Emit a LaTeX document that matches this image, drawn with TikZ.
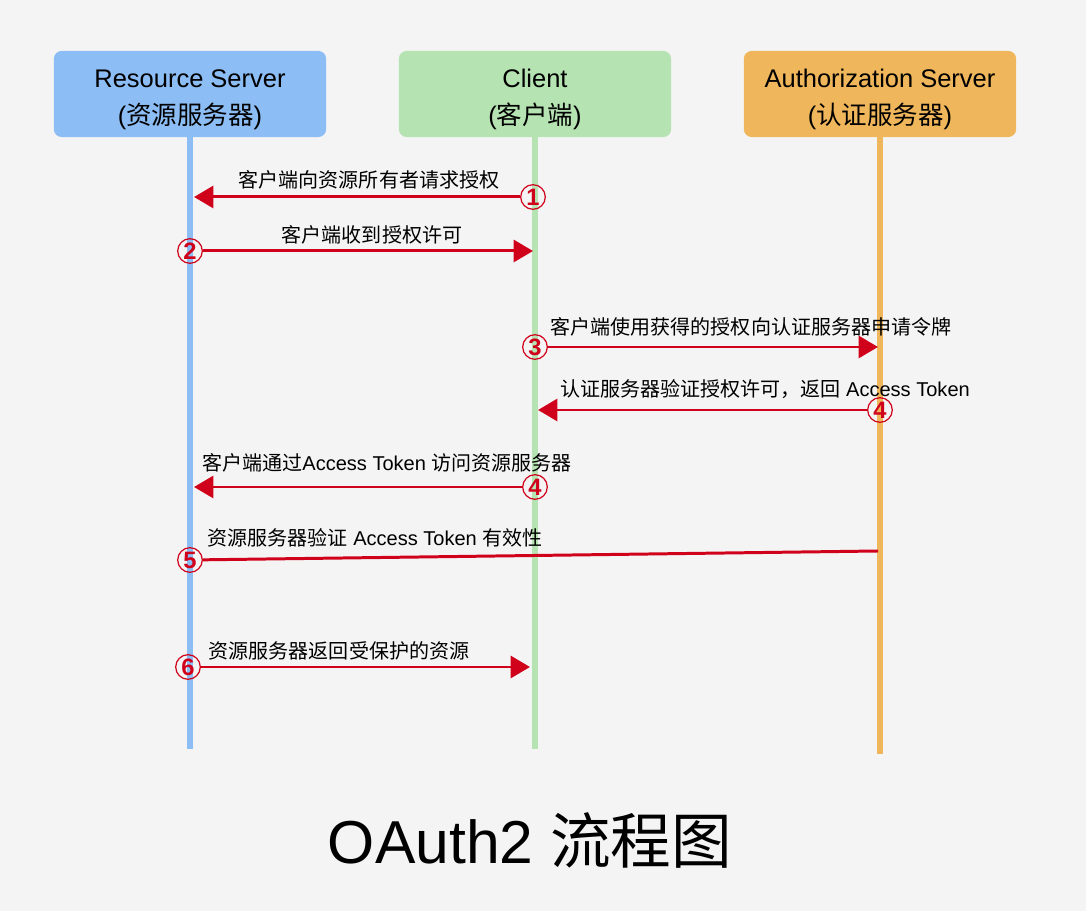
\documentclass[tikz,border=0pt]{standalone}
\usepackage{fontspec}
\setmainfont{Liberation Sans}
\newfontfamily\cjk{Noto Sans CJK SC}
\usetikzlibrary{arrows.meta,positioning}

\definecolor{resblue}{HTML}{8CBDF4}
\definecolor{cligreen}{HTML}{B6E3B2}
\definecolor{authorange}{HTML}{EFB65B}
\definecolor{msgred}{HTML}{D0021B}
\definecolor{bggray}{HTML}{F4F4F4}

\tikzset{
    actor/.style={rounded corners=4.5pt, minimum width=155pt, minimum height=49pt,
        inner sep=0pt, align=center, font=\fontsize{14.5}{21}\selectfont},
    lifeline/.style={line width=3.4pt},
    msg/.style={draw=msgred, line width=1.7pt, -{Triangle[length=11pt, width=12.5pt]}},
    num/.style={circle, draw=msgred, text=msgred, line width=0.7pt, minimum size=14pt,
        inner sep=0pt, font=\fontsize{13.5}{13.5}\selectfont\bfseries},
    msglabel/.style={inner sep=0pt, font=\fontsize{11.4}{13}\selectfont}
}

\begin{document}
\begin{tikzpicture}[x=0.02cm, y=-0.02cm]

    % Background
    \fill[bggray] (0,0) rectangle (1086,911);
    \useasboundingbox (0,0) rectangle (1086,911);

    % Participants
    \node[actor, fill=resblue] (rs) at (190,94) {\rule{0pt}{16.5pt}Resource Server\\({\cjk 资源服务器})};
    \node[actor, fill=cligreen] (cl) at (535,94) {\rule{0pt}{16.5pt}Client\\({\cjk 客户端})};
    \node[actor, fill=authorange] (as) at (880,94) {\rule{0pt}{16.5pt}Authorization Server\\({\cjk 认证服务器})};

    % Lifelines
    \coordinate (rsend) at (190,749);
    \coordinate (clend) at (535,749);
    \coordinate (asend) at (880,754);
    \draw[lifeline, resblue] (rs.south) -- (rsend);
    \draw[lifeline, cligreen] (cl.south) -- (clend);
    \draw[lifeline, authorange] (as.south) -- (asend);

    % Step 1
    \node[num] (n1) at (533,197) {1};
    \coordinate (t1) at (194,197);
    \draw[msg] (n1) -- (t1);
    \node[msglabel] (l1) at (369,180) {\cjk 客户端向资源所有者请求授权};

    % Step 2
    \node[num] (n2) at (190,251) {2};
    \coordinate (t2) at (533,251);
    \draw[msg] (n2) -- (t2);
    \node[msglabel] (l2) at (372,235) {\cjk 客户端收到授权许可};

    % Step 3
    \node[num] (n3) at (535,347) {3};
    \coordinate (t3) at (878,347);
    \draw[msg] (n3) -- (t3);
    \node[msglabel] (l3) at (751,327) {\cjk 客户端使用获得的授权向认证服务器申请令牌};

    % Step 4
    \node[num] (n4) at (880,410) {4};
    \coordinate (t4) at (538,410);
    \draw[msg] (n4) -- (t4);
    \node[msglabel] (l4) at (765,389) {{\cjk 认证服务器验证授权许可，返回} Access Token};

    % Step 4 (again)
    \node[num] (n4b) at (535,487) {4};
    \coordinate (t4b) at (194,487);
    \draw[msg] (n4b) -- (t4b);
    \node[msglabel] (l4b) at (387,463) {{\cjk 客户端通过}Access Token {\cjk 访问资源服务器}};

    % Step 5
    \node[num] (n5) at (190,560) {5};
    \coordinate (s5) at (878,551);
    \draw[draw=msgred, line width=1.7pt] (s5) -- (n5);
    \node[msglabel] (l5) at (375,538) {{\cjk 资源服务器验证} Access Token {\cjk 有效性}};

    % Step 6
    \node[num] (n6) at (188,667) {6};
    \coordinate (t6) at (530,667);
    \draw[msg] (n6) -- (t6);
    \node[msglabel] (l6) at (339,651) {\cjk 资源服务器返回受保护的资源};

    % Title
    \node[inner sep=0pt, font=\fontsize{34.5}{40}\selectfont] (title) at (530,840) {OAuth2 {\cjk 流程图}};

\end{tikzpicture}
\end{document}
